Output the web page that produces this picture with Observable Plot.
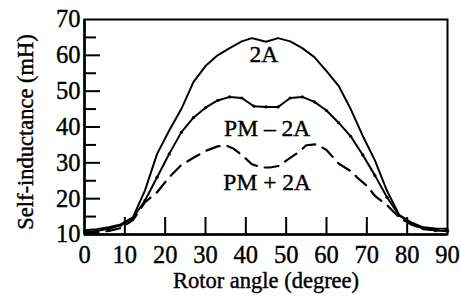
<!DOCTYPE html>
<html><head><meta charset="utf-8">
<script src="https://cdn.jsdelivr.net/npm/d3@7"></script>
<script src="https://cdn.jsdelivr.net/npm/@observablehq/plot@0.6"></script>
<style>
body{margin:0;background:#fff;}
svg text{font-family:"Liberation Serif","Times New Roman",serif;stroke:#000;stroke-width:0.4px;}
</style></head><body><div id="chart"></div>
<script>
// ---- data ----
const xTicks = [0,10,20,30,40,50,60,70,80,90];
const yTicks = [10,20,30,40,50,60,70];
const xMarks = [10,20,30,40,50,60,70,80];
const yMajor = [20,30,40,50,60];
const yMinor = [15,25,35,45,55,65];

const a2x = [0,3,6,9,12,15,18,21,24,27,30,33,36,39,41.5,45,48,51,54,57,60,63,66,69,72,75,78,81,84,87,90];
const a2y = [11.2,11.5,12,12.8,14.8,22.3,32.5,39,45,52.5,57,60,62,63.9,64.8,63.8,64.8,63.9,62,59.5,55.6,51.5,45,37.5,30.7,22.2,15.5,13.4,12,11.7,11.6];

const pmMx = [0,3,6,9,12,15,18,21,24,27,30,33,36,39,42,45,48,51,54,57,60,63,66,69,72,75,78,81,84,87,90];
const pmMy = [10.7,11,11.6,12.6,14.6,19.5,26,32.5,38.5,42.6,45.4,47.4,48.4,48.1,45.8,45.6,45.6,48.1,48.4,47,44.6,41.2,37.4,32.2,26.5,20.4,15.3,13,11.6,11.1,10.9];

const pmPx = [0,3,6,9,12,15,18,21,24,27,30,33,35,37,39,41.5,44,46,48.5,50,53,55,57.5,60,63,66,68,70,72,75,78,81,84,87,90];
const pmPy = [10.3,10.5,11,11.8,14,19,21.8,26,29.4,31.4,33.3,34.6,34.9,33.9,32.2,29.6,28.7,28.7,29.2,30.6,32.9,34.9,35.2,33.6,29.8,27.7,25.5,23.6,20.8,18.2,14.8,12.8,11.5,11.2,11.2];

const labels = ["2A","PM – 2A","PM + 2A"];
const labelX = [44.5,45.3,45.3];
const labelY = [60.3,39.7,24.4];

const xTitle = "Rotor angle (degree)";
const yTitle = "Self-inductance (mH)";

// ---- build ----
const s2A = a2x.map((x,i)=>({x, y:a2y[i]}));
const sM = pmMx.map((x,i)=>({x, y:pmMy[i]}));
const sP = pmPx.map((x,i)=>({x, y:pmPy[i]}));
const ann = labels.map((t,i)=>({t, x:labelX[i], y:labelY[i]}));

const W=461, H=297, mL=84, mR=14, mT=19, mB=63;
const pw = W-mL-mR, ph = H-mT-mB;

const chart = Plot.plot({
  width:W, height:H, marginLeft:mL, marginRight:mR, marginTop:mT, marginBottom:mB,
  style:{fontFamily:'"Liberation Serif","Times New Roman",serif', background:"#fff", color:"#000"},
  x:{domain:[0,90]},
  y:{domain:[10,70]},
  marks:[
    Plot.axisX(xTicks,{tickSize:0, tickPadding:11, fontSize:24.5, label:null}),
    Plot.axisY(yTicks,{tickSize:0, tickPadding:4, fontSize:24.5, label:null}),
    Plot.tickY(yMajor,{y:d=>d, insetRight:pw-16, stroke:"#000", strokeWidth:2}),
    Plot.tickY(yMinor,{y:d=>d, insetRight:pw-12, stroke:"#000", strokeWidth:2}),
    Plot.tickX(xMarks,{x:d=>d, insetTop:ph-17, stroke:"#000", strokeWidth:2}),
    Plot.frame({stroke:"#000", strokeWidth:2}),
    Plot.ruleX([0],{stroke:"#000", strokeWidth:2.5}),
    Plot.ruleY([10],{stroke:"#000", strokeWidth:2.5}),
    Plot.line(sP,{x:"x", y:"y", stroke:"#000", strokeWidth:2.2, strokeDasharray:"14,8"}),
    Plot.line(sM,{x:"x", y:"y", stroke:"#000", strokeWidth:2}),
    Plot.dot(sM,{x:"x", y:"y", r:1.6, fill:"#000"}),
    Plot.line(s2A,{x:"x", y:"y", stroke:"#000", strokeWidth:2}),
    Plot.text(ann,{x:"x", y:"y", text:"t", fontSize:23.5, fill:"#000", lineAnchor:"middle"}),
    Plot.text([xTitle],{frameAnchor:"bottom", dy:46, fontSize:22.5, fill:"#000", textAnchor:"middle", lineAnchor:"middle"}),
    Plot.text([yTitle],{frameAnchor:"left", dx:-59, dy:5, rotate:-90, fontSize:22.5, fill:"#000", textAnchor:"middle", lineAnchor:"middle"})
  ]
});
document.getElementById("chart").appendChild(chart);
</script></body></html>
